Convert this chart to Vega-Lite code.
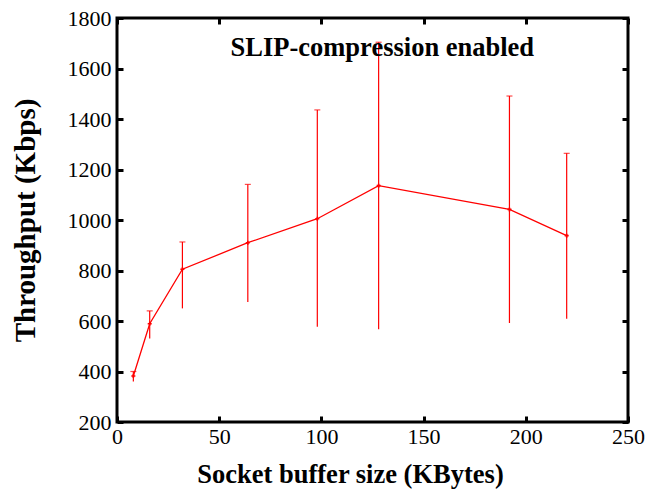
{
  "$schema": "https://vega.github.io/schema/vega-lite/v6.json",
  "autosize": "none",
  "width": 511,
  "height": 404,
  "padding": {"left": 117, "top": 18, "right": 34, "bottom": 69},
  "background": "white",
  "config": {
    "view": {"stroke": "black", "strokeWidth": 3},
    "font": "Liberation Serif",
    "axis": {
      "grid": false,
      "domain": false,
      "tickColor": "black",
      "tickWidth": 3,
      "tickSize": -6,
      "labelFlush": false,
      "format": "d",
      "labelFont": "Liberation Serif",
      "labelFontSize": 22,
      "labelColor": "black",
      "titleFont": "Liberation Serif",
      "titleFontSize": 26.5,
      "titleFontWeight": "bold",
      "titleColor": "black"
    }
  },
  "data": {
    "values": [
      {"size": 8, "throughput": 382, "low": 360, "high": 400},
      {"size": 16, "throughput": 589, "low": 531, "high": 640},
      {"size": 32, "throughput": 805, "low": 650, "high": 913},
      {"size": 64, "throughput": 910, "low": 675, "high": 1141},
      {"size": 98, "throughput": 1005, "low": 577, "high": 1436},
      {"size": 128, "throughput": 1136, "low": 567, "high": 1704},
      {"size": 192, "throughput": 1042, "low": 592, "high": 1491},
      {"size": 220, "throughput": 938, "low": 609, "high": 1264}
    ]
  },
  "layer": [
    {
      "mark": {"type": "rule", "color": "#ff0000", "strokeWidth": 1.2},
      "encoding": {
        "x": {
          "field": "size", "type": "quantitative",
          "scale": {"domain": [0, 250], "nice": false},
          "axis": {"orient": "bottom", "values": [0, 50, 100, 150, 200, 250], "labelPadding": 10, "title": "Socket buffer size (KBytes)", "titlePadding": 14, "titleX": 233}
        },
        "y": {
          "field": "low", "type": "quantitative",
          "scale": {"domain": [200, 1800], "nice": false},
          "axis": {"orient": "left", "values": [200, 400, 600, 800, 1000, 1200, 1400, 1600, 1800], "labelPadding": 12, "title": "Throughput (Kbps)", "titleFontSize": 29, "titlePadding": 27}
        },
        "y2": {"field": "high"}
      }
    },
    {
      "mark": {"type": "tick", "color": "#ff0000", "orient": "horizontal", "size": 6, "thickness": 1.2},
      "encoding": {
        "x": {
          "field": "size", "type": "quantitative",
          "axis": {"orient": "top", "values": [0, 50, 100, 150, 200, 250], "labels": false, "title": null}
        },
        "y": {
          "field": "high", "type": "quantitative",
          "axis": {"orient": "right", "values": [200, 400, 600, 800, 1000, 1200, 1400, 1600, 1800], "labels": false, "title": null}
        }
      }
    },
    {
      "mark": {"type": "line", "color": "#ff0000", "strokeWidth": 1.3},
      "encoding": {
        "x": {"field": "size", "type": "quantitative", "axis": null},
        "y": {"field": "throughput", "type": "quantitative", "axis": null}
      }
    },
    {
      "mark": {"type": "point", "shape": "cross", "filled": true, "color": "#ff0000", "size": 16, "opacity": 1},
      "encoding": {
        "x": {"field": "size", "type": "quantitative", "axis": null},
        "y": {"field": "throughput", "type": "quantitative", "axis": null}
      }
    },
    {
      "data": {"values": [{"size": 129.8, "throughput": 1681, "label": "SLIP-compression enabled"}]},
      "mark": {"type": "text", "font": "Liberation Serif", "fontSize": 26.5, "fontWeight": "bold", "color": "black", "align": "center", "baseline": "middle"},
      "encoding": {
        "x": {"field": "size", "type": "quantitative", "axis": null},
        "y": {"field": "throughput", "type": "quantitative", "axis": null},
        "text": {"field": "label"}
      }
    }
  ]
}
